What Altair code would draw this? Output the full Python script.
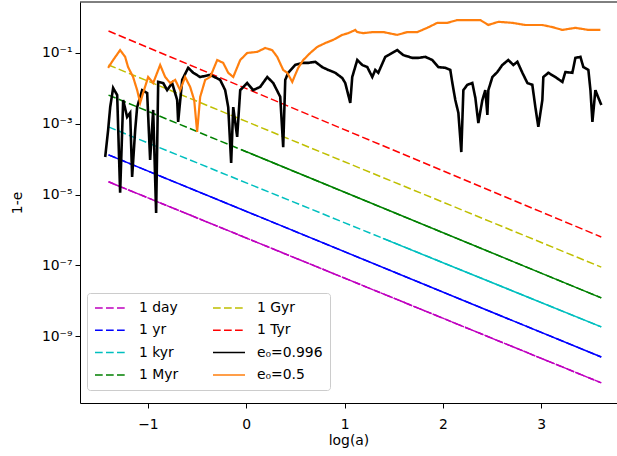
import altair as alt
import pandas as pd

# ---- reference lines (log10(1-e) at the two ends) ----
line_names = ["1 day", "1 yr", "1 kyr", "1 Myr", "1 Gyr", "1 Tyr"]
line_x = [-1.40, 3.61]
line_start = [-4.64, -3.88, -3.09, -2.19, -1.34, -0.38]
line_end = [-10.32, -9.59, -8.74, -7.92, -7.05, -6.20]

# solid-looking stretches of some reference lines (series, x from, log y from)
solid_series = ["1 yr", "1 Myr", "1 kyr"]
solid_from_x = [-1.40, -0.05, 1.39]
solid_from_ly = [-3.88, -3.73, -6.24]

# ---- e0 = 0.996 run: log(a) and log10(1-e) ----
black_x = [-1.434, -1.404, -1.383, -1.353, -1.312, -1.282, -1.251, -1.211, -1.180, -1.160,
           -1.129, -1.109, -1.058, -1.007, -0.977, -0.946, -0.916, -0.895, -0.844, -0.804,
           -0.753, -0.702, -0.692, -0.651, -0.590, -0.539, -0.468, -0.366, -0.265, -0.214,
           -0.183, -0.153, -0.132, -0.092, -0.061, 0.010, 0.071, 0.142, 0.214, 0.275,
           0.346, 0.376, 0.397, 0.427, 0.498, 0.570, 0.631, 0.702, 0.773, 0.834,
           0.905, 0.977, 1.007, 1.058, 1.078, 1.129, 1.180, 1.231, 1.282, 1.312,
           1.343, 1.414, 1.485, 1.536, 1.597, 1.689, 1.750, 1.821, 1.892, 1.953,
           2.024, 2.075, 2.096, 2.126, 2.157, 2.187, 2.208, 2.248, 2.299, 2.330,
           2.360, 2.401, 2.431, 2.452, 2.462, 2.503, 2.553, 2.604, 2.665, 2.716,
           2.757, 2.808, 2.859, 2.909, 2.940, 2.970, 3.011, 3.021, 3.072, 3.143,
           3.215, 3.245, 3.316, 3.347, 3.398, 3.428, 3.479, 3.500, 3.520, 3.550,
           3.581, 3.611]
black_ly = [-3.94, -3.18, -2.53, -1.99, -2.19, -4.95, -2.33, -2.81, -2.69, -4.50,
            -3.18, -2.53, -2.05, -2.13, -4.02, -2.61, -5.52, -1.82, -1.85, -2.05,
            -1.85, -2.33, -2.95, -1.76, -1.42, -1.56, -1.68, -1.62, -1.76, -2.05,
            -2.53, -4.11, -2.53, -3.37, -2.05, -1.85, -2.05, -1.96, -1.68, -1.85,
            -2.24, -3.66, -1.76, -1.56, -1.34, -1.28, -1.28, -1.25, -1.40, -1.48,
            -1.56, -1.71, -1.85, -2.41, -1.68, -1.20, -1.34, -1.40, -1.68, -1.48,
            -1.56, -1.11, -1.00, -0.92, -1.06, -1.14, -1.14, -1.11, -1.20, -1.40,
            -1.42, -1.48, -1.85, -2.33, -2.69, -3.80, -2.05, -1.90, -1.85, -2.27,
            -2.98, -2.33, -2.05, -2.75, -2.05, -1.68, -1.54, -1.34, -1.20, -1.34,
            -1.25, -1.56, -1.85, -1.90, -2.53, -3.09, -2.33, -1.68, -1.56, -1.68,
            -1.82, -1.54, -1.56, -1.14, -1.11, -1.40, -1.48, -2.05, -2.95, -2.05,
            -2.27, -2.47]

# ---- e0 = 0.5 run ----
orange_x = [-1.404, -1.353, -1.282, -1.231, -1.201, -1.150, -1.109, -1.078, -1.048, -0.997,
            -0.946, -0.875, -0.824, -0.773, -0.722, -0.672, -0.621, -0.570, -0.529, -0.499,
            -0.468, -0.417, -0.366, -0.295, -0.234, -0.183, -0.132, -0.061, 0.010, 0.112,
            0.193, 0.264, 0.315, 0.376, 0.417, 0.447, 0.468, 0.498, 0.529, 0.580,
            0.651, 0.722, 0.804, 0.885, 0.977, 1.038, 1.109, 1.129, 1.190, 1.292,
            1.394, 1.536, 1.638, 1.740, 1.841, 1.943, 2.045, 2.146, 2.248, 2.380,
            2.462, 2.564, 2.706, 2.838, 3.011, 3.113, 3.215, 3.347, 3.479, 3.601]
orange_ly = [-1.42, -1.20, -0.92, -1.11, -1.40, -1.68, -2.05, -2.41, -2.13, -1.68,
             -1.85, -1.34, -1.68, -1.85, -1.76, -2.05, -1.68, -1.96, -2.33, -3.23,
             -2.24, -1.76, -1.68, -1.20, -1.28, -1.56, -1.68, -1.20, -1.00, -0.97,
             -0.86, -0.92, -1.11, -1.48, -1.56, -1.71, -1.82, -1.62, -1.42, -1.20,
             -1.00, -0.83, -0.72, -0.63, -0.49, -0.44, -0.35, -0.41, -0.44, -0.41,
             -0.41, -0.49, -0.41, -0.41, -0.29, -0.15, -0.15, -0.07, -0.07, -0.07,
             -0.21, -0.12, -0.15, -0.21, -0.21, -0.27, -0.35, -0.29, -0.35, -0.35]

BLACK = "e₀=0.996"
ORANGE = "e₀=0.5"

legend_domain = ["1 day", "1 yr", "1 kyr", "1 Myr", "1 Gyr", "1 Tyr", BLACK, ORANGE]
legend_colors = ["#bf00bf", "#0000ff", "#00bfbf", "#008000", "#bfbf00", "#ff0000", "#000000", "#ff7f0e"]
DASH = [7.7, 3.3]
legend_dash = [DASH] * 6 + [[1, 0], [1, 0]]

rows = []
for name, a, b in zip(line_names, line_start, line_end):
    rows.append({"series": name, "x": line_x[0], "y": 10 ** a})
    rows.append({"series": name, "x": line_x[1], "y": 10 ** b})
lines_df = pd.DataFrame(rows)

srows = []
for name, x0, ly0 in zip(solid_series, solid_from_x, solid_from_ly):
    i = line_names.index(name)
    srows.append({"series": name, "x": x0, "y": 10 ** ly0})
    srows.append({"series": name, "x": line_x[1], "y": 10 ** line_end[i]})
solid_df = pd.DataFrame(srows)

mag_df = lines_df[lines_df.series == "1 day"]

black_df = pd.DataFrame({"series": BLACK, "x": black_x, "y": [10 ** v for v in black_ly]})
orange_df = pd.DataFrame({"series": ORANGE, "x": orange_x, "y": [10 ** v for v in orange_ly]})

W, H = 537, 401
FS = 13.9
xs = alt.Scale(domain=[-1.69, 3.77], nice=False, zero=False)
ys = alt.Scale(type="log", domain=[1.29e-11, 2.75], nice=False)

y_label_expr = ("datum.value < 3e-9 ? '10⁻⁹' : datum.value < 3e-7 ? '10⁻⁷' : "
                "datum.value < 3e-5 ? '10⁻⁵' : datum.value < 3e-3 ? '10⁻³' : '10⁻¹'")

X = alt.X("x:Q", scale=xs, title="log(a)",
          axis=alt.Axis(values=[-1, 0, 1, 2, 3], format="d", labelPadding=9, titlePadding=3))
Y = alt.Y("y:Q", scale=ys, title="1-e",
          axis=alt.Axis(values=[1e-9, 1e-7, 1e-5, 1e-3, 1e-1], labelExpr=y_label_expr,
                        titlePadding=17))

cscale = alt.Scale(domain=legend_domain, range=legend_colors)
dscale = alt.Scale(domain=legend_domain, range=legend_dash)
leg = alt.Legend(title=None, orient="none", legendX=7, legendY=291, columns=2,
                 symbolType="stroke", symbolSize=1024, symbolStrokeWidth=1.5,
                 clipHeight=16,
                 labelFont="DejaVu Sans", labelFontSize=FS, labelColor="black",
                 labelOffset=11, rowPadding=6.3, columnPadding=33, padding=7,
                 fillColor="white", strokeColor="#cccccc", cornerRadius=3)

C = alt.Color("series:N", scale=cscale, legend=leg)
D = alt.StrokeDash("series:N", scale=dscale, legend=leg)

base_lines = alt.Chart(lines_df).mark_line(strokeWidth=1.5, clip=True).encode(
    x=X, y=Y, color=C, strokeDash=D, detail="series:N")

solid_lines = alt.Chart(solid_df).mark_line(strokeWidth=1.5, clip=True).encode(
    x="x:Q", y="y:Q", detail="series:N",
    color=alt.Color("series:N", scale=cscale, legend=None))

mag_tight = alt.Chart(mag_df).mark_line(strokeWidth=1.5, strokeDash=[6, 1], color="#bf00bf",
                                        clip=True).encode(x="x:Q", y="y:Q")

black_line = alt.Chart(black_df).mark_line(strokeWidth=2.6, clip=True).encode(
    x="x:Q", y="y:Q", color=C, strokeDash=D)

orange_line = alt.Chart(orange_df).mark_line(strokeWidth=2.2, clip=True).encode(
    x="x:Q", y="y:Q", color=C, strokeDash=D)

top_border = alt.Chart(pd.DataFrame({"v": [0]})).mark_rule(color="black", strokeWidth=1).encode(
    x=alt.value(0), x2=alt.value(W), y=alt.value(0))

chart = alt.layer(base_lines, solid_lines, mag_tight, black_line, orange_line, top_border).properties(
    width=W, height=H, autosize=alt.AutoSizeParams(type="none"),
    padding={"left": 80, "top": 2, "right": 0, "bottom": 53},
    background="white",
).configure_view(stroke=None).configure_axis(
    grid=False, domainColor="black", domainWidth=1, tickColor="black", tickSize=5, tickWidth=1,
    labelColor="black", labelFont="DejaVu Sans", labelFontSize=FS, labelPadding=3,
    titleColor="black", titleFont="DejaVu Sans", titleFontSize=FS, titleFontWeight="normal",
)

chart.save("out.html", embed_options={"renderer": "svg", "actions": False})
